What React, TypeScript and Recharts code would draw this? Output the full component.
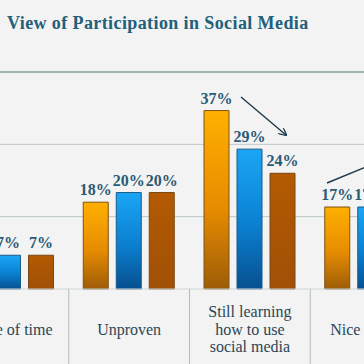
import React from 'react';
import { BarChart, Bar, XAxis, YAxis, CartesianGrid, LabelList, ReferenceLine } from 'recharts';

// categories (the chart is cropped: first and last groups run off the edges)
const categories = ['Waste of time', 'Unproven', 'Still learning how to use social media', 'Nice to have'];
const categoryLines = [['Waste of time'], ['Unproven'], ['Still learning', 'how to use', 'social media'], ['Nice to have']];

// percentages per series
const seriesOrange = [9, 18, 37, 17];
const seriesBlue = [7, 20, 29, 17];
const seriesBrown = [7, 20, 24, 14];

const yTicks = [0, 15, 30, 45];

const data = categories.map((name, i) => ({
  name,
  orange: seriesOrange[i],
  blue: seriesBlue[i],
  brown: seriesBrown[i],
}));

const CHART_W = 483;
const BAND = CHART_W / categories.length;
const SERIF = '"Liberation Serif", "DejaVu Serif", serif';
const LABEL_COLOR = '#2b5a74';

const CategoryTick = (props: any) => {
  const { x, y, payload, index } = props;
  const lines = categoryLines[index] || [payload.value];
  const lh = 17.5;
  const cy = y + 40 - ((lines.length - 1) * lh) / 2;
  return (
    <g>
      <line x1={x + BAND / 2} x2={x + BAND / 2} y1={y} y2={y + 80} stroke="#b5bcbf" strokeWidth={1} />
      <text x={x} y={cy} textAnchor="middle" fontFamily={SERIF} fontSize={16} fill="#2a4656">
        {lines.map((l: string, i: number) => (
          <tspan key={i} x={x} y={cy + i * lh} dominantBaseline="central">
            {l}
          </tspan>
        ))}
      </text>
    </g>
  );
};

const pct = (v: any) => `${v}%`;

export default function App() {
  return (
    <div
      style={{
        position: 'fixed',
        left: 0,
        top: 0,
        width: 364,
        height: 364,
        overflow: 'hidden',
        background: '#f3f3f3',
      }}
    >
      <div
        style={{
          position: 'absolute',
          left: 7,
          top: 13,
          fontFamily: SERIF,
          fontWeight: 'bold',
          fontSize: 18,
          letterSpacing: 0.4,
          color: '#225f7b',
          whiteSpace: 'nowrap',
        }}
      >
        View of Participation in Social Media
      </div>
      <div style={{ position: 'absolute', left: -52, top: 62 }}>
        <BarChart
          width={CHART_W}
          height={302}
          data={data}
          margin={{ top: 10, right: 0, left: 0, bottom: 0 }}
          barCategoryGap={14.5}
          barGap={8}
        >
          <defs>
            <linearGradient id="gOrange" x1="0" y1="0" x2="0" y2="1">
              <stop offset="0%" stopColor="#ffb000" />
              <stop offset="55%" stopColor="#e68c00" />
              <stop offset="100%" stopColor="#9e5c08" />
            </linearGradient>
            <linearGradient id="gBlue" x1="0" y1="0" x2="0" y2="1">
              <stop offset="0%" stopColor="#1aa6f5" />
              <stop offset="55%" stopColor="#0b7fd0" />
              <stop offset="100%" stopColor="#07508f" />
            </linearGradient>
            <linearGradient id="gBrown" x1="0" y1="0" x2="0" y2="1">
              <stop offset="0%" stopColor="#b35a02" />
              <stop offset="100%" stopColor="#a05006" />
            </linearGradient>
          </defs>
          <CartesianGrid vertical={false} stroke="#bcc6c9" horizontalValues={[15, 30]} />
          <YAxis hide domain={[0, 45]} ticks={yTicks} />
          <XAxis
            dataKey="name"
            height={75}
            interval={0}
            tickLine={false}
            tickSize={0}
            tickMargin={0}
            axisLine={{ stroke: '#d0d6d8' }}
            tick={<CategoryTick />}
          />
          <ReferenceLine y={45} stroke="#a6b4b5" strokeWidth={2} />
          <Bar dataKey="orange" fill="url(#gOrange)" stroke="#7d5214" strokeWidth={1} isAnimationActive={false}>
            <LabelList dataKey="orange" position="top" offset={7} formatter={pct} fill={LABEL_COLOR} fontFamily={SERIF} fontWeight="bold" fontSize={16} />
          </Bar>
          <Bar dataKey="blue" fill="url(#gBlue)" stroke="#1b5a86" strokeWidth={1} isAnimationActive={false}>
            <LabelList dataKey="blue" position="top" offset={7} formatter={pct} fill={LABEL_COLOR} fontFamily={SERIF} fontWeight="bold" fontSize={16} />
          </Bar>
          <Bar dataKey="brown" fill="url(#gBrown)" stroke="#7a4612" strokeWidth={1} isAnimationActive={false}>
            <LabelList dataKey="brown" position="top" offset={7} formatter={pct} fill={LABEL_COLOR} fontFamily={SERIF} fontWeight="bold" fontSize={16} />
          </Bar>
        </BarChart>
      </div>
      <svg width={364} height={364} style={{ position: 'absolute', left: 0, top: 0, pointerEvents: 'none' }}>
        <defs>
          <marker id="arrowHead" markerWidth="8" markerHeight="8" refX="7" refY="4" orient="auto" markerUnits="userSpaceOnUse">
            <path d="M0,0 L8,4 L0,8" fill="none" stroke="#1e3a4c" strokeWidth={1.3} />
          </marker>
        </defs>
        <line x1={241} y1={97} x2={286} y2={135} stroke="#1e3a4c" strokeWidth={1.4} markerEnd="url(#arrowHead)" />
        <line x1={327} y1={183} x2={380} y2={161} stroke="#1e3a4c" strokeWidth={1.4} />
      </svg>
    </div>
  );
}
